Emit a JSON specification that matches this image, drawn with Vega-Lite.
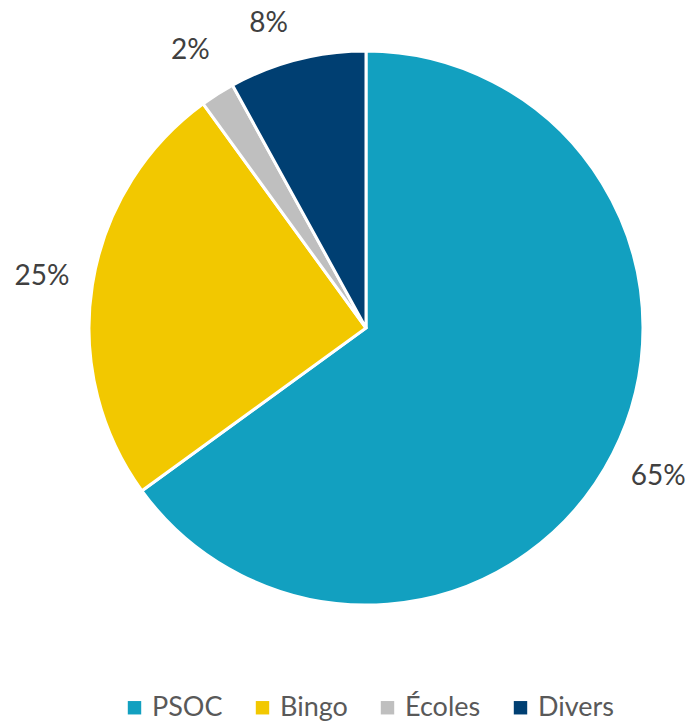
{
  "$schema": "https://vega.github.io/schema/vega-lite/v6.json",
  "autosize": {"type": "none"},
  "width": 600,
  "height": 600,
  "padding": {"left": 66, "top": 28, "right": 28, "bottom": 93},
  "background": "white",
  "config": {"view": {"stroke": null}, "font": "Lato"},
  "data": {
    "values": [
      {"categorie": "PSOC", "part": 65, "label": "65%", "ordre": 1},
      {"categorie": "Bingo", "part": 25, "label": "25%", "ordre": 2},
      {"categorie": "Écoles", "part": 2, "label": "2%", "ordre": 3},
      {"categorie": "Divers", "part": 8, "label": "8%", "ordre": 4}
    ]
  },
  "encoding": {
    "theta": {"field": "part", "type": "quantitative", "stack": true},
    "color": {
      "field": "categorie",
      "type": "nominal",
      "sort": ["PSOC", "Bingo", "Écoles", "Divers"],
      "scale": {
        "domain": ["PSOC", "Bingo", "Écoles", "Divers"],
        "range": ["#12A0C0", "#F2C800", "#BFBFBF", "#003F72"]
      },
      "legend": {
        "title": null,
        "orient": "none",
        "direction": "horizontal",
        "legendX": 55,
        "legendY": 666,
        "symbolType": "square",
        "symbolSize": 180,
        "symbolStrokeWidth": 0,
        "labelFont": "Lato",
        "labelFontSize": 27,
        "labelColor": "#595959",
        "labelOffset": 4,
        "columnPadding": 26,
        "labelLimit": 200
      }
    },
    "order": {"field": "ordre", "type": "quantitative", "sort": "ascending"}
  },
  "layer": [
    {
      "mark": {"type": "arc", "outerRadius": 277, "stroke": "white", "strokeWidth": 3}
    },
    {
      "mark": {"type": "text", "radius": 328, "fontSize": 28, "font": "Lato"},
      "encoding": {
        "text": {"field": "label"},
        "color": {"value": "#404040"},
        "opacity": {"condition": {"test": "datum.categorie === 'Divers'", "value": 0}, "value": 1}
      }
    },
    {
      "mark": {"type": "text", "radius": 314, "fontSize": 28, "font": "Lato", "align": "right"},
      "encoding": {
        "text": {"condition": {"test": "datum.categorie === 'Divers'", "field": "label"}, "value": ""},
        "color": {"value": "#404040"}
      }
    }
  ]
}
